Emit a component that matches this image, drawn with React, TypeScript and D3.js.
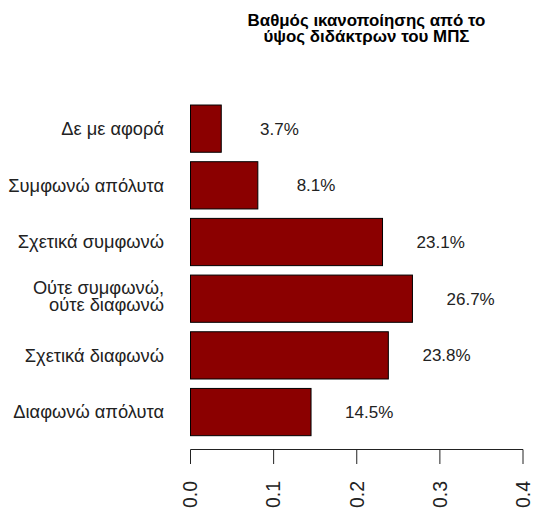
import React from "react";
import * as d3 from "d3";

const categories: string[] = [
  "Δε με αφορά",
  "Συμφωνώ απόλυτα",
  "Σχετικά συμφωνώ",
  "Ούτε συμφωνώ,\nούτε διαφωνώ",
  "Σχετικά διαφωνώ",
  "Διαφωνώ απόλυτα",
];
const values: number[] = [0.037, 0.081, 0.231, 0.267, 0.238, 0.145];
const valueLabels: string[] = ["3.7%", "8.1%", "23.1%", "26.7%", "23.8%", "14.5%"];
const ticks: number[] = [0, 0.1, 0.2, 0.3, 0.4];
const titleLines: string[] = ["Βαθμός ικανοποίησης από το", "ύψος διδάκτρων του ΜΠΣ"];

const W = 536;
const H = 517;
const FONT = "Liberation Sans, Arial, sans-serif";

export default function App() {
  const x = d3.scaleLinear().domain([0, 0.4]).range([190.5, 523]);
  const y = d3
    .scaleBand<string>()
    .domain(categories)
    .range([100.3, 440.4])
    .paddingInner(1 / 6)
    .paddingOuter(1 / 12);
  const axisY = 449.5;
  const labelX = 164;
  const fmt = d3.format(".1f");

  return (
    <svg
      width={W}
      height={H}
      style={{ position: "absolute", left: 0, top: 0, background: "#fff" }}
      fontFamily={FONT}
    >
      <rect x={0} y={0} width={W} height={H} fill="#fff" />
      <text textAnchor="middle" fontWeight="bold" fontSize={16.9} fill="#000">
        {titleLines.map((t, i) => (
          <tspan key={i} x={366.5} y={26 + i * 16}>
            {t}
          </tspan>
        ))}
      </text>
      {categories.map((c, i) => {
        const yc = (y(c) as number) + y.bandwidth() / 2;
        const lines = c.split("\n");
        const lh = 17.7;
        return (
          <g key={c}>
            <rect
              x={x(0)}
              y={y(c)}
              width={x(values[i]) - x(0)}
              height={y.bandwidth()}
              fill="#8B0000"
              stroke="#000"
              strokeWidth={1}
            />
            <text textAnchor="end" fontSize={18.3} fill="#222">
              {lines.map((l, j) => (
                <tspan
                  key={j}
                  x={labelX}
                  y={
                    lines.length > 1
                      ? yc + 3.7 + (j - (lines.length - 1) / 2) * lh
                      : yc + 6.4
                  }
                >
                  {l}
                </tspan>
              ))}
            </text>
            <text
              x={x(values[i] + 0.07)}
              y={yc}
              dy="0.35em"
              textAnchor="middle"
              fontSize={17}
              fill="#222"
            >
              {valueLabels[i]}
            </text>
          </g>
        );
      })}
      <line x1={x(0)} x2={x(0.4)} y1={axisY} y2={axisY} stroke="#222" strokeWidth={1} />
      {ticks.map((t) => (
        <g key={t}>
          <line x1={x(t)} x2={x(t)} y1={axisY} y2={464} stroke="#222" strokeWidth={1} />
          <text
            transform={`translate(${x(t)},481) rotate(-90)`}
            dy="0.35em"
            textAnchor="end"
            fontSize={19.5}
            fill="#222"
          >
            {fmt(t)}
          </text>
        </g>
      ))}
    </svg>
  );
}
